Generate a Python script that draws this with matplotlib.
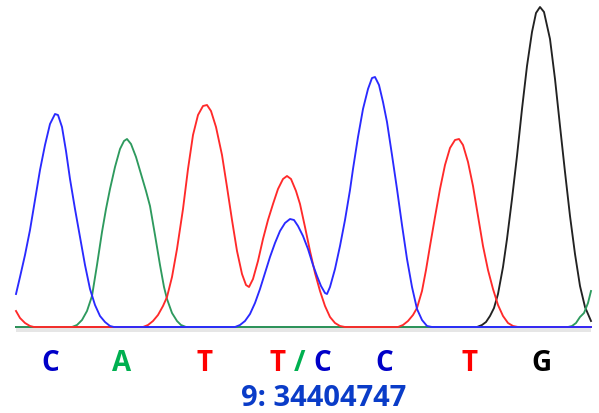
import matplotlib
matplotlib.use("Agg")
import matplotlib.pyplot as plt

# Electropherogram traces: scan position vs. fluorescence signal per dye channel
blue_scan = [16, 20, 25, 30, 35, 40, 45, 50, 55, 58, 62, 66, 70, 75, 80, 85, 90, 95, 100, 105, 110, 114,
             235, 240, 245, 250, 255, 260, 265, 270, 275, 280, 285, 290, 294, 298, 303, 308, 313, 317, 321,
             325, 327, 330, 335, 340, 345, 350, 353, 358, 363, 368, 372, 375, 379, 383, 387, 392, 397, 402,
             407, 412, 417, 422, 427, 432, 591]
blue_signal = [33, 50, 72, 97, 127, 157, 182, 203, 213, 212, 200, 176, 148, 118, 90, 62, 38, 22, 11, 5, 1, 0,
               0, 2, 6, 13, 24, 38, 54, 70, 84, 96, 104, 108, 107, 101, 91, 78, 62, 51, 41,
               34, 33, 40, 58, 81, 107, 137, 158, 190, 218, 238, 249, 250, 242, 225, 205, 172, 138, 102,
               68, 40, 18, 7, 1, 0, 0]

red_scan = [16, 20, 25, 30, 34,
            143, 148, 153, 158, 163, 167, 172, 177, 183, 188, 193, 198, 203, 207, 211, 216, 222, 227, 232,
            237, 242, 246, 249, 253, 258, 263, 268, 273, 278, 283, 287, 291, 296, 300, 305, 310, 315, 320,
            325, 330, 335, 340, 345,
            398, 403, 408, 413, 417, 422, 426, 430, 435, 440, 445, 450, 455, 459, 463, 468, 473, 478, 483,
            488, 493, 498, 503, 508, 513, 518, 591]
red_signal = [16, 9, 4, 1, 0,
              0, 2, 6, 12, 21, 30, 50, 78, 118, 158, 192, 212, 221, 222, 216, 200, 172, 140, 107,
              76, 53, 42, 40, 48, 66, 88, 107, 123, 138, 148, 151, 148, 136, 123, 100, 76, 54, 36,
              21, 10, 4, 1, 0,
              0, 2, 6, 12, 19, 36, 57, 81, 110, 138, 162, 179, 187, 188, 182, 165, 141, 111, 81,
              57, 38, 22, 11, 4, 1, 0, 0]

green_scan = [16, 72, 77, 82, 87, 92, 97, 102, 106, 110, 115, 120, 124, 127, 131, 136, 141, 146, 150,
              155, 160, 164, 167, 172, 177, 181, 186, 568, 572, 576, 580, 584, 588, 591]
green_signal = [0, 0, 2, 7, 16, 31, 62, 95, 118, 138, 160, 178, 186, 188, 183, 170, 153, 136, 121,
                92, 62, 40, 28, 14, 6, 2, 0, 0, 1, 4, 10, 14, 24, 36]

black_scan = [16, 477, 482, 486, 490, 494, 498, 503, 507, 512, 517, 522, 527, 532, 536, 540, 544, 550,
              555, 560, 565, 570, 575, 580, 585, 591]
black_signal = [0, 0, 2, 5, 11, 19, 33, 60, 88, 128, 171, 218, 261, 295, 314, 320, 315, 288,
                248, 201, 155, 111, 73, 41, 20, 6]

# Base calls under the peaks
base_letters = ["C", "A", "T", "T", "/", "C", "C", "T", "G"]
base_colors = ["#0000c8", "#00b050", "#ff0000", "#ff0000", "#00b050", "#0000c8", "#0000c8", "#ff0000", "#000000"]
base_pos = [50, 122, 204, 278, 300, 322, 384, 469, 541]
position_label = "9: 34404747"

W, H = 599, 414
fig = plt.figure(figsize=(W / 100, H / 100), dpi=100)
fig.patch.set_facecolor("white")

ax_left, ax_right = 16, 591
ax_top, ax_bottom = 5, 334
ax = fig.add_axes([ax_left / W, 1 - ax_bottom / H, (ax_right - ax_left) / W, (ax_bottom - ax_top) / H])
ax.set_xlim(16, 591)
ax.set_ylim(-6, 323)
ax.axis("off")

# light grey strip under the baseline
ax.axhspan(-4.7, -1.3, color="#e6e6e6", lw=0, zorder=0)

lw = 1.35
ax.plot(black_scan, black_signal, color="#222222", lw=lw, zorder=2, clip_on=False)
ax.plot(green_scan, green_signal, color="#2e9a5e", lw=lw, zorder=3, clip_on=False)
ax.plot(red_scan, red_signal, color="#ff2a2a", lw=lw, zorder=4, clip_on=False)
ax.plot(blue_scan, blue_signal, color="#2a2aff", lw=lw, zorder=5, clip_on=False)

font = ["Open Sans", "DejaVu Sans"]
for letter, col, xp in zip(base_letters, base_colors, base_pos):
    fig.text(xp / W, 1 - 371 / H, letter, color=col, fontsize=20, fontweight="bold",
             family=font, ha="center", va="baseline")

fig.text(324 / W, 1 - 406 / H, position_label, color="#0a3cc8", fontsize=21, fontweight="bold",
         family=font, ha="center", va="baseline")

fig.savefig("out.png", dpi=100, facecolor="white")
